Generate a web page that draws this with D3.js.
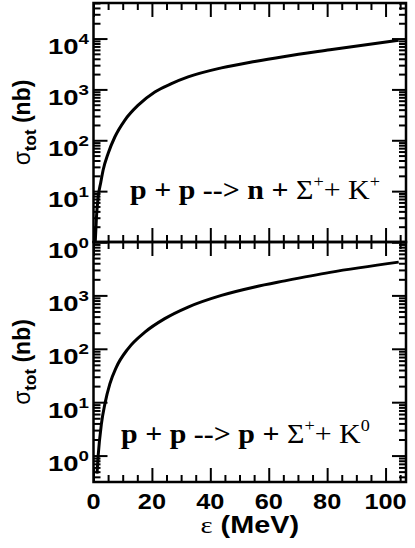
<!DOCTYPE html>
<html>
<head>
<meta charset="utf-8">
<script src="https://cdn.jsdelivr.net/npm/d3@7"></script>
<style>
body { margin: 0; background: #fff; }
svg { display: block; }
</style>
</head>
<body>
<div id="chart"></div>
<script>
// energies (MeV) and cross sections (nb)
var epsTop = [0.6, 1.0, 1.6, 2.5, 3.3, 5.0, 7.3, 10.7, 15.3, 21, 26.7, 32.4, 43.8, 55.2, 65.5, 81, 104.5];
var sigTop = [1.0, 3.0, 7.7, 15, 26, 55, 116, 247, 490, 890, 1300, 1760, 2650, 3550, 4450, 6000, 9300];

var epsBot = [1.2, 1.6, 2.7, 3.9, 5.6, 7.8, 11.8, 17.6, 24.4, 32.4, 43.8, 55.2, 65.5, 81, 104.5];
var sigBot = [0.46, 1.0, 3.9, 9.3, 22, 45, 100, 205, 367, 605, 1000, 1440, 1870, 2700, 4200];

var xTicks = [0, 20, 40, 60, 80, 100];
var topDecades = [0, 1, 2, 3, 4];
var botDecades = [0, 1, 2, 3];

var w = 415;
var h = 548;
var left = 93.5, right = 406;
var sans = "'Liberation Sans', Arial, Helvetica, sans-serif";
var serif = "'Liberation Serif', 'Times New Roman', serif";

var svg = d3.select("#chart").append("svg")
   .attr("width", w)
   .attr("height", h);

var x = d3.scaleLinear().domain([0, 107]).range([left, right]);

var panels = [
  {top: 3, bottom: 242, dom: [1, 5e4], eps: epsTop, sig: sigTop, dec: topDecades,
   lab: {x: 130, y: 199, prod: "n", k: "+"}},
  {top: 242, bottom: 482, dom: [0.32, 1e4], eps: epsBot, sig: sigBot, dec: botDecades,
   lab: {x: 121, y: 443, prod: "p", k: "0"}}
];

function logTicks(dom) {
  var out = [];
  for (var d = -1; d <= 5; d++) {
    for (var k = 1; k <= 9; k++) {
      var v = k * Math.pow(10, d);
      if (v >= dom[0] * 0.999 && v <= dom[1] * 1.001) out.push({v: v, major: k == 1});
    }
  }
  return out;
}

var xMinor = d3.range(0, 106, 5).filter(function(d) { return d % 20 != 0; });

panels.forEach(function(p) {
  var y = d3.scaleLog().domain(p.dom).range([p.bottom, p.top]);
  var g = svg.append("g");
  var lt = logTicks(p.dom);
  var minor = lt.filter(function(d) { return !d.major; }).map(function(d) { return d.v; });
  var major = lt.filter(function(d) { return d.major; }).map(function(d) { return d.v; });

  function yAxis(vals, size) {
    g.append("g").attr("transform", "translate(" + left + ",0)")
      .call(d3.axisLeft(y).tickValues(vals).tickSize(-size).tickSizeOuter(0).tickFormat(""));
    g.append("g").attr("transform", "translate(" + right + ",0)")
      .call(d3.axisRight(y).tickValues(vals).tickSize(-size).tickSizeOuter(0).tickFormat(""));
  }
  yAxis(minor, 7);
  yAxis(major, 14);

  function xAxis(vals, size) {
    g.append("g").attr("transform", "translate(0," + p.bottom + ")")
      .call(d3.axisBottom(x).tickValues(vals).tickSize(-size).tickSizeOuter(0).tickFormat(""));
    g.append("g").attr("transform", "translate(0," + p.top + ")")
      .call(d3.axisTop(x).tickValues(vals).tickSize(-size).tickSizeOuter(0).tickFormat(""));
  }
  xAxis(xMinor, 7);
  xAxis(xTicks, 14);

  g.selectAll(".domain").remove();
  g.selectAll(".tick line").attr("stroke", "#000").attr("stroke-width", 2);

  g.append("rect")
   .attr("x", left).attr("y", p.top)
   .attr("width", right - left).attr("height", p.bottom - p.top)
   .attr("fill", "none").attr("stroke", "#000").attr("stroke-width", 2.5);

  // y tick labels 10^n
  p.dec.forEach(function(n) {
    var t = g.append("text")
      .attr("transform", "translate(89," + (y(Math.pow(10, n)) + 15.5) + ") scale(1.25,1)")
      .attr("text-anchor", "end")
      .attr("font-family", sans)
      .attr("font-weight", "bold")
      .attr("font-size", "22px");
    t.append("tspan").text("10");
    t.append("tspan").attr("dy", -10).attr("font-size", "15px").text(n);
  });

  // curve
  var pts = p.eps.map(function(e, i) { return [e, p.sig[i]]; });
  g.append("path")
   .datum(pts)
   .attr("d", d3.line().x(function(d) { return x(d[0]); }).y(function(d) { return y(d[1]); })
      .curve(d3.curveMonotoneX))
   .attr("fill", "none").attr("stroke", "#000").attr("stroke-width", 3);

  // reaction label
  var r = g.append("text")
    .attr("transform", "translate(" + p.lab.x + "," + p.lab.y + ") scale(1.07,1)")
    .attr("font-family", serif)
    .attr("font-size", "28px");
  r.append("tspan").attr("font-weight", "bold").text("p + p --> " + p.lab.prod + " + ");
  r.append("tspan").text("\u03A3");
  r.append("tspan").attr("dy", -12).attr("font-size", "17px").text("+");
  r.append("tspan").attr("dy", 12).text("+ K");
  r.append("tspan").attr("dy", -12).attr("font-size", "17px").text(p.lab.k);

  // y title
  var yt = svg.append("text")
    .attr("transform", "translate(30," + ((p.top + p.bottom) / 2) + ") rotate(-90)")
    .attr("text-anchor", "middle")
    .attr("font-family", sans)
    .attr("font-size", "23px");
  yt.append("tspan").text("\u03C3");
  yt.append("tspan").attr("dy", 6).attr("font-size", "17px").attr("font-weight", "bold").text("tot");
  yt.append("tspan").attr("dy", -6).attr("font-weight", "bold").text(" (nb)");
});

// x tick labels
svg.selectAll(".xl")
   .data(xTicks)
   .enter()
   .append("text")
   .attr("transform", function(d) { return "translate(" + x(d) + ",509) scale(1.15,1)"; })
   .attr("text-anchor", "middle")
   .attr("font-family", sans)
   .attr("font-weight", "bold")
   .attr("font-size", "22px")
   .text(function(d) { return d; });

var xt = svg.append("text")
   .attr("transform", "translate(" + ((left + right) / 2) + ",533) scale(1.2,1)")
   .attr("text-anchor", "middle")
   .attr("font-family", sans)
   .attr("font-size", "24px");
xt.append("tspan").attr("font-family", serif).text("\u03B5");
xt.append("tspan").attr("font-weight", "bold").text(" (MeV)");
</script>
</body>
</html>
